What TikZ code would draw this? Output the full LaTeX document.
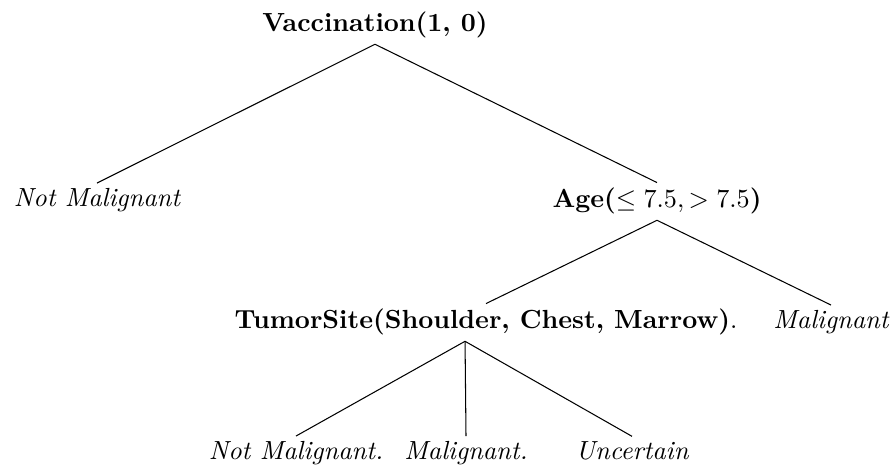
\documentclass[tikz,border=0pt]{standalone}
\usepackage{amsmath, amssymb}
\usepackage{tikz}
\usetikzlibrary{positioning}

\begin{document}
\begin{tikzpicture}
            [x=0.01341cm, y=-0.01341cm,
             split/.style={font=\bfseries, inner sep=2pt, anchor=base},
             leaf/.style={font=\itshape, inner sep=2pt, anchor=base}]
            \useasboundingbox (0,0) rectangle (894,465);

            \node[split] (V) at (375,32) {Vaccination(1, 0)};
            \node[leaf] (N1) at (97,207) {Not Malignant};
            \node[split] (A) at (657,208) {Age($\leq 7.5, > 7.5$)};
            \node[split] (T) at (486,329) {TumorSite(Shoulder, Chest, Marrow)\textnormal{.}};
            \node[leaf] (M1) at (831,329) {Malignant};
            \node[leaf] (N2) at (296,460) {Not Malignant.};
            \node[leaf] (M2) at (466,460) {Malignant.};
            \node[leaf] (U) at (632,460) {Uncertain};

            \draw (V.south) -- (N1.north);
            \draw (V.south) -- (A.north);
            \draw (A.south) -- (T.north);
            \draw (A.south) -- (M1.north);
            \draw ([xshift=-20\pgflinewidth]T.south) -- (N2.north);
            \draw ([xshift=-20\pgflinewidth]T.south) -- (M2.north);
            \draw ([xshift=-20\pgflinewidth]T.south) -- (U.north);

            % \draw[draw=none, use as bounding box] (0, 0) rectangle (894, 465);
        \end{tikzpicture}
\end{document}
